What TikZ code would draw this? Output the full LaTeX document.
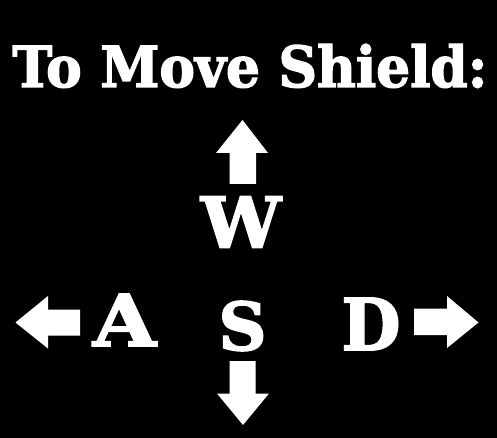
\documentclass[tikz,border=0pt]{standalone}
\usepackage{fontspec}
\setmainfont{DejaVu Serif}
\newfontfamily\heavyfont[FakeBold=2.5]{DejaVu Serif Bold}
\begin{document}
\begin{tikzpicture}[x=1pt,y=-1pt,
  lbl/.style={inner sep=0pt,outer sep=0pt,text=white,font=\heavyfont},
  arrowshape/.style={fill=white,draw=none}]
\fill[black] (0,0) rectangle (497,438);
\useasboundingbox (0,0) rectangle (497,438);
% title
\node[lbl,anchor=base west] (title) at (12.5,87) {\resizebox{475pt}{43pt}{\heavyfont To Move Shield:}};
% letters
\node[lbl,anchor=south west] (w) at (201,247.5) {\resizebox*{80pt}{51pt}{\heavyfont W}};
\node[lbl,anchor=south west] (a) at (93,346) {\resizebox*{63pt}{52pt}{\heavyfont A}};
\node[lbl,anchor=south west] (s) at (218.5,351) {\resizebox*{48pt}{50pt}{\heavyfont S}};
\node[lbl,anchor=south west] (d) at (341.5,350) {\resizebox*{59pt}{52pt}{\heavyfont D}};
% arrows
\path[arrowshape] (242.5,120) -- (268,153) -- (256,153) -- (256,184) -- (229.5,184) -- (229.5,153) -- (216,153) -- cycle;
\path[arrowshape] (15.5,322.5) -- (48,296) -- (48,309.5) -- (80,309.5) -- (80,335.5) -- (48,335.5) -- (48,348.5) -- cycle;
\path[arrowshape] (243,425) -- (217,393.5) -- (229.5,393.5) -- (229.5,361) -- (255.5,361) -- (255.5,393.5) -- (269,393.5) -- cycle;
\path[arrowshape] (478.5,322.5) -- (447,296) -- (447,308.5) -- (414,308.5) -- (414,335) -- (447,335) -- (447,348) -- cycle;
\end{tikzpicture}
\end{document}
